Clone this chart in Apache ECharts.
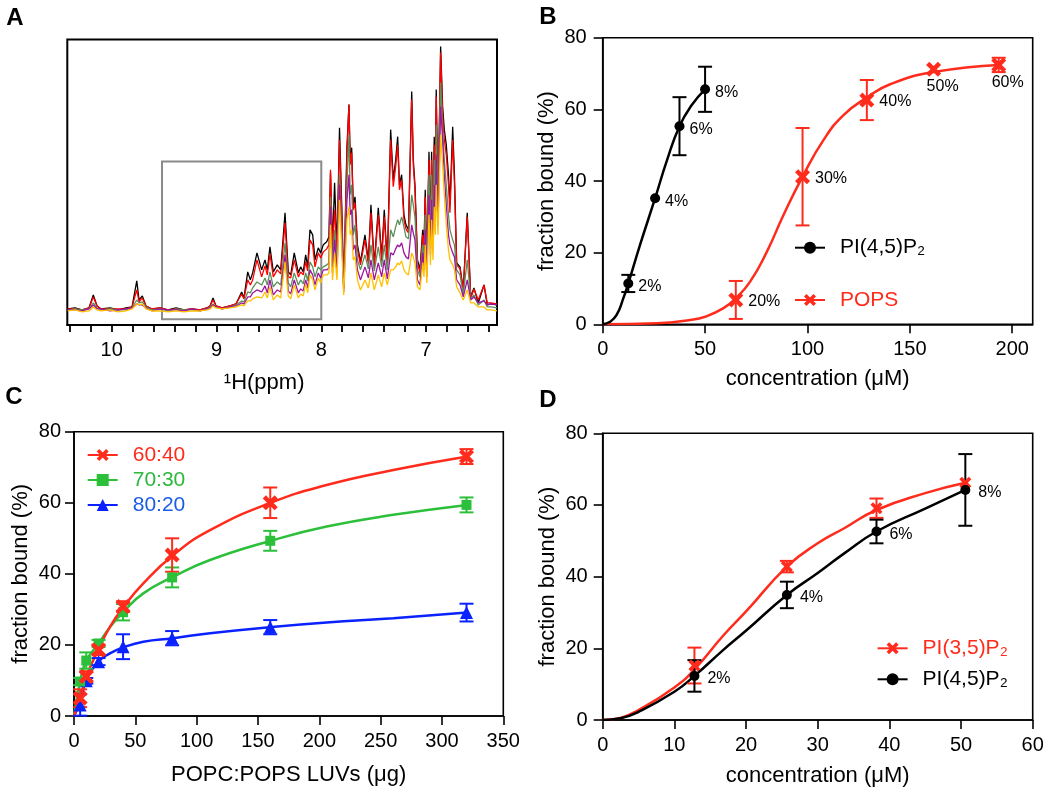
<!DOCTYPE html>
<html><head><meta charset="utf-8">
<script src="https://cdn.jsdelivr.net/npm/echarts@6/dist/echarts.min.js"></script>
<style>html,body{margin:0;padding:0;background:#fff}#c{width:1050px;height:795px}</style>
</head><body><div id="c"></div>
<script>
// ---------------- Panel A: 1H NMR spectra (vertices) ----------------
const ppmA = [10.42,10.35,10.283,10.217,10.176,10.14,10.102,10.016,9.94,9.864,9.806,9.761,9.739,9.708,9.673,9.615,9.539,9.463,9.386,9.31,9.234,9.157,9.091,9.062,9.033,9.005,8.947,8.871,8.814,
 8.76,8.738,8.702,8.677,8.655,8.614,8.569,8.537,8.515,8.49,8.458,8.42,8.387,8.346,8.315,8.292,8.258,8.219,8.197,8.172,8.149,8.13,8.108,8.082,8.06,8.029,8.006,7.981,7.948,7.927,
 7.912,7.893,7.873,7.85,7.826,7.805,7.786,7.755,7.736,7.724,7.71,7.695,7.678,7.655,7.626,7.583,7.551,7.526,7.494,7.456,7.424,7.399,7.37,7.338,7.313,7.29,7.271,7.254,7.233,7.211,7.192,7.168,
 7.137,7.122,7.106,7.082,7.058,7.032,7.02,7.008,6.993,6.972,6.958,6.947,6.934,6.922,6.912,6.903,6.886,6.861,6.842,6.826,6.807,6.786,6.772,6.746,6.729,6.708,6.676,6.645,6.607,6.574,6.543,6.502,6.447,6.416,6.381,6.323];
const nmrBlack = [16,17,15,17,30,19,16,17,15,17,18,44,25,29,19,16,17,15,17,15,16,15,17,19,27,19,17,19,21,
 33,27,53,45,52,72,55,65,55,78,53,60,55,112,53,50,72,52,58,53,70,58,95,90,65,77,72,80,83,88,
 152,78,142,75,197,120,38,178,220,165,177,120,128,80,63,90,64,120,60,117,68,115,62,195,145,165,188,140,150,110,100,95,
 233,165,140,65,55,95,75,135,62,173,90,173,100,188,140,235,120,278,218,195,180,150,120,198,150,62,58,35,112,28,37,22,40,20,21,20];
const nmrRed = [16,16,15,17,28,19,16,16,16,16,18,35,23,27,19,16,17,15,16,15,16,15,17,19,25,19,17,19,21,
 31,26,45,40,45,65,48,59,50,71,48,55,51,102,48,47,65,48,53,50,63,54,85,80,58,72,67,73,76,80,
 155,75,115,72,185,112,37,170,220,160,172,115,122,76,60,85,61,112,58,110,64,108,60,185,138,158,180,135,145,105,96,92,
 225,160,135,62,52,90,72,128,60,165,86,165,95,180,135,228,115,272,210,185,170,140,112,185,140,60,56,34,108,27,36,25,40,22,22,21];
const nmrGreen = [15,16,15,16,22,17,15,16,15,15,17,25,22,23,18,15,16,14,16,15,15,14,16,18,21,18,16,18,20,
 24,23,33,32,37,43,40,47,40,53,38,43,40,82,42,38,52,40,45,41,52,44,63,58,48,58,55,58,60,62,
 128,58,95,60,150,95,36,140,190,130,140,90,100,65,55,70,56,80,54,78,58,80,55,95,88,98,105,100,108,98,88,86,
 130,120,108,55,48,80,65,110,55,150,80,150,88,165,120,200,110,242,195,165,140,110,95,85,80,55,50,30,65,26,30,20,25,18,18,17];
const nmrPurple = [15,15,14,16,20,16,16,14,15,16,17,21,20,20,17,14,16,15,15,14,16,14,16,17,20,18,16,18,19,
 22,21,28,28,32,35,33,39,32,45,30,35,33,70,34,31,45,32,36,34,45,37,55,50,40,52,47,55,55,57,
 118,52,85,52,140,88,33,125,150,110,115,75,80,55,45,58,47,65,45,62,48,65,46,72,70,76,80,78,82,72,68,66,
 100,92,85,45,40,72,55,95,48,130,70,125,75,140,105,170,100,218,185,150,120,90,80,72,68,45,40,28,45,25,28,22,24,20,21,20];
const nmrYellow = [14,15,13,14,18,15,14,15,13,14,16,21,20,21,16,14,14,13,14,13,14,14,15,16,19,17,16,17,18,
 20,19,24,24,26,28,27,33,27,38,25,30,27,63,29,26,40,27,31,29,41,32,50,45,35,47,42,50,50,52,
 100,45,72,45,125,78,30,105,118,90,95,65,68,45,35,45,37,52,35,50,38,52,40,55,55,58,62,60,64,55,52,50,
 72,68,62,38,35,62,48,80,42,110,60,105,65,118,90,140,90,190,160,130,100,75,65,60,55,38,32,25,35,22,22,18,18,15,15,14];
const nmrTicks = [6.4,6.6,6.8,7.0,7.2,7.4,7.6,7.8,8.0,8.2,8.4,8.6,8.8,9.0,9.2,9.4,9.6,9.8,10.0,10.2,10.4];
const nmrLabels = [7, 8, 9, 10];
const zoomBoxPpm = [9.52, 8.0];
const zoomBoxLevel = [5.7, 163.3];

// ---------------- Panel B ----------------
const concB45 = [12.5, 25.6, 37.5, 50.0];
const boundB45 = [11.4, 35.2, 55.3, 65.6];
const errB45 = [2.4, 0, 8.1, 6.3];
const labelsB45 = ['2%', '4%', '6%', '8%'];
const fitB45X = [0, 3.6, 6.8, 10.1, 12.5, 18.2, 25.6, 31.3, 37.5, 43.5, 50.0];
const fitB45Y = [0, 0.7, 2.6, 7.3, 11.4, 22.1, 35.2, 45.6, 55.3, 61.2, 65.6];
const concBPS = [65.0, 97.6, 129.0, 161.6, 193.4];
const boundBPS = [6.8, 41.2, 62.6, 71.2, 72.4];
const errBPS = [5.3, 13.6, 5.6, 0, 2.0];
const labelsBPS = ['20%', '30%', '40%', '50%', '60%'];
const fitBPSX = [0, 26.4, 42.7, 50, 59, 65, 72, 80.2, 88.3, 97.6, 107.8, 117.6, 129, 140.4, 161.6, 193.4];
const fitBPSY = [0, 0.3, 1.2, 2.1, 4.5, 7.3, 11.9, 20.3, 30.5, 41.2, 51.4, 58.4, 63.3, 67.0, 70.4, 72.4];
const ticksBX = [0, 50, 100, 150, 200];

// ---------------- Panel C ----------------
const luvC = [5, 10, 20, 40, 80, 160, 320];
const c6040 = [5.0, 11.1, 18.6, 30.8, 45.3, 60.0, 73.0];
const e6040 = [2.5, 1.5, 1.5, 1.5, 4.7, 4.3, 2.1];
const c7030 = [9.7, 15.6, 20.4, 29.2, 39.0, 49.3, 59.4];
const e7030 = [1.0, 2.3, 1.0, 2.3, 2.8, 2.8, 2.1];
const c8020 = [3.1, 9.9, 15.3, 19.5, 21.9, 25.0, 29.1];
const e8020 = [3.0, 0.8, 1.0, 3.5, 2.0, 2.0, 2.5];
const fitCX = [0, 5, 10, 20, 29.3, 40, 56.5, 81, 110.9, 160.3, 206, 260.3, 320.6];
const fit6040 = [0, 5, 11, 18.8, 25.1, 30.5, 37.3, 45.3, 52.3, 60.0, 65.0, 69.2, 73.0];
const fit7030 = [0, 9.7, 15.5, 20.4, 25.0, 29.2, 34.5, 39.2, 43.9, 49.3, 53.3, 56.6, 59.4];
const fit8020 = [0, 4.0, 10.0, 15.3, 17.6, 19.3, 20.9, 21.9, 23.3, 25.0, 26.3, 27.5, 29.1];

// ---------------- Panel D ----------------
const concD = [12.8, 25.7, 38.2, 50.6];
const d45 = [12.3, 34.9, 52.6, 64.2];
const eD45 = [4.4, 3.7, 3.3, 10.0];
const d35 = [15.2, 42.8, 59.1, 66.2];
const eD35 = [5.0, 1.6, 2.7, 0];
const labelsD = ['2%', '4%', '6%', '8%'];
const fitDX = [0, 2.5, 5, 10, 12.8, 16.8, 20.1, 25.7, 30, 33.7, 38.2, 45, 50.6];
const fitD35 = [0, 0.6, 2.8, 9.1, 14.1, 23.5, 30.5, 42.8, 49.3, 53.5, 58.6, 63.3, 66.2];
const fitD45 = [0, 0.5, 2.3, 7.9, 12.3, 19.5, 25.1, 34.9, 41.0, 46.5, 52.6, 59.0, 64.2];

// ---------------- styling ----------------
const FONT = '"Liberation Sans", Arial, Helvetica, sans-serif';
const RED = '#ff2b1c', BLK = '#000000', GRN = '#2cbf3a', BLU = '#0a22ff';
const GRN_T = '#2db83d', BLU_T = '#1a5ce6';
const SPEC = ['#000000', '#ff0000', '#5b8f5b', '#a0159f', '#ffc000'];
const XSYM = 'path://M0,2.1L2.1,0L5,2.9L7.9,0L10,2.1L7.1,5L10,7.9L7.9,10L5,7.1L2.1,10L0,7.9L2.9,5Z';

const pairs = (xs, ys) => xs.map((x, i) => [x, ys[i]]);
function curve(name, xs, ys, color, gi, symbol, size) {
  return { type: 'line', name, xAxisIndex: gi, yAxisIndex: gi, data: pairs(xs, ys), smooth: 0.5,
    showSymbol: false, symbol, symbolSize: size, lineStyle: { color, width: 2.5 }, itemStyle: { color, opacity: 1 }, z: 3, silent: true };
}
function errBars(xs, ys, es, color, gi) {
  const data = xs.map((x, i) => [x, ys[i] - es[i], ys[i] + es[i], es[i]]).filter(d => d[3] > 0);
  return { type: 'custom', xAxisIndex: gi, yAxisIndex: gi, data, encode: { x: 0, y: [1, 2] }, z: 4, silent: true,
    renderItem: (p, api) => {
      const x = api.value(0), a = api.coord([x, api.value(1)]), b = api.coord([x, api.value(2)]), h = 7;
      const st = { stroke: color, lineWidth: 2 };
      return { type: 'group', children: [
        { type: 'line', shape: { x1: a[0], y1: a[1], x2: b[0], y2: b[1] }, style: st },
        { type: 'line', shape: { x1: a[0] - h, y1: a[1], x2: a[0] + h, y2: a[1] }, style: st },
        { type: 'line', shape: { x1: b[0] - h, y1: b[1], x2: b[0] + h, y2: b[1] }, style: st } ] };
    } };
}
function points(xs, ys, color, gi, symbol, size, labels, labelCfg) {
  return { type: 'scatter', xAxisIndex: gi, yAxisIndex: gi, symbol, symbolSize: size, itemStyle: { color, opacity: 1 }, z: 5, silent: true,
    label: { show: false, color: '#000', fontSize: 16, fontFamily: FONT },
    data: xs.map((x, i) => { const d = { value: [x, ys[i]] };
      if (labels) d.label = Object.assign({ show: true, formatter: labels[i], color: '#000' }, labelCfg(i)); return d; }) };
}
const tickStyle = { color: '#000', width: 1.6 };
function xAx(gi, min, max, interval, name, nameGap, custom) {
  const ax = { gridIndex: gi, type: 'value', min, max, interval,
    axisLine: { show: true, onZero: false, lineStyle: tickStyle },
    axisTick: { show: true, length: 9, lineStyle: tickStyle },
    axisLabel: { color: '#000', fontSize: 20, margin: 15, fontFamily: FONT },
    splitLine: { show: false }, name, nameLocation: 'middle', nameGap,
    nameTextStyle: { color: '#000', fontSize: 22, fontFamily: FONT } };
  if (custom) { ax.axisTick.customValues = custom; ax.axisLabel.customValues = custom; }
  return ax;
}
function yAx(gi, margin, nameGap) {
  return { gridIndex: gi, type: 'value', min: 0, max: 80, interval: 20,
    axisLine: { show: true, onZero: false, lineStyle: tickStyle },
    axisTick: { show: true, length: 9, lineStyle: tickStyle },
    axisLabel: { color: '#000', fontSize: 20, margin, fontFamily: FONT },
    splitLine: { show: false }, name: 'fraction bound (%)', nameLocation: 'middle', nameGap,
    nameTextStyle: { color: '#000', fontSize: 22, fontFamily: FONT } };
}
function legendCfg(names, colors, left, top, gap) {
  return { show: true, selectedMode: false, orient: 'vertical', left, top, itemGap: gap, itemWidth: 30, itemHeight: 15, padding: 0,
    data: names.map((n, i) => ({ name: n, textStyle: { color: colors[i] } })),
    formatter: n => n.replace(/^[A-Z]:/, ''),
    textStyle: { fontSize: 21, fontFamily: FONT, lineHeight: 24, padding: [0, 0, 0, 10] } };
}
const gridBase = { show: true, borderColor: '#000', borderWidth: 1.6, containLabel: false };

const specNames = ['s1', 's2', 's3', 's4', 's5'];
const specData = [nmrBlack, nmrRed, nmrGreen, nmrPurple, nmrYellow];
const specSeries = specData.map((arr, k) => ({ type: 'line', name: specNames[k], xAxisIndex: 0, yAxisIndex: 0,
  data: pairs(ppmA, arr), showSymbol: false, symbol: 'none', lineStyle: { color: SPEC[k], width: 1.3 }, z: 2, silent: true }));
specSeries[4].markArea = { silent: true, itemStyle: { color: 'rgba(0,0,0,0)', borderColor: '#8a8a8a', borderWidth: 2 },
  data: [[{ coord: [zoomBoxPpm[0], zoomBoxLevel[0]] }, { coord: [zoomBoxPpm[1], zoomBoxLevel[1]] }]] };

const option = {
  animation: false,
  backgroundColor: '#fff',
  textStyle: { fontFamily: FONT },
  grid: [
    Object.assign({ left: 67.3, top: 39.5, width: 429.7, height: 285.5 }, gridBase, { borderWidth: 2 }),
    Object.assign({ left: 602.7, top: 37.7, width: 430, height: 286.6 }, gridBase),
    Object.assign({ left: 74, top: 431.7, width: 429.3, height: 284.3 }, gridBase),
    Object.assign({ left: 602.7, top: 433.3, width: 430, height: 286.7 }, gridBase)
  ],
  xAxis: [
    { gridIndex: 0, type: 'value', min: 6.323, max: 10.424, inverse: true,
      axisLine: { show: true, onZero: false, lineStyle: { color: '#000', width: 2 } },
      axisTick: { show: true, length: 7, lineStyle: { color: '#000', width: 1.8 }, customValues: nmrTicks },
      axisLabel: { customValues: nmrLabels, color: '#000', fontSize: 20, margin: 15, fontFamily: FONT },
      splitLine: { show: false }, name: '¹H(ppm)', nameLocation: 'middle', nameGap: 47,
      nameTextStyle: { color: '#000', fontSize: 22, fontFamily: FONT, padding: [0, 36, 0, 0] } },
    xAx(1, 0, 210, 50, 'concentration (μM)', 44, ticksBX),
    xAx(2, 0, 350, 50, 'POPC:POPS LUVs (μg)', 48),
    xAx(3, 0, 60, 10, 'concentration (μM)', 45)
  ],
  yAxis: [
    { gridIndex: 0, type: 'value', min: 0, max: 285, show: false, splitLine: { show: false } },
    yAx(1, 16, 45), yAx(2, 13, 42), yAx(3, 15, 44)
  ],
  legend: [
    legendCfg(['PI(4,5)P₂', 'POPS'], [BLK, RED], 794, 235.7, 28.3),
    legendCfg(['60:40', '70:30', '80:20'], [RED, GRN_T, BLU_T], 86.7, 443, 1),
    legendCfg(['D:PI(3,5)P₂', 'D:PI(4,5)P₂'], [RED, BLK], 876.6, 636.3, 7)
  ],
  graphic: [
    { type: 'text', style: { x: 15, y: 18, text: 'A', align: 'center', verticalAlign: 'middle', font: 'bold 24px ' + FONT, fill: '#000' } },
    { type: 'text', style: { x: 548, y: 17, text: 'B', align: 'center', verticalAlign: 'middle', font: 'bold 24px ' + FONT, fill: '#000' } },
    { type: 'text', style: { x: 14, y: 397, text: 'C', align: 'center', verticalAlign: 'middle', font: 'bold 24px ' + FONT, fill: '#000' } },
    { type: 'text', style: { x: 548, y: 400, text: 'D', align: 'center', verticalAlign: 'middle', font: 'bold 24px ' + FONT, fill: '#000' } }
  ],
  series: [
    ...specSeries,
    // B
    curve('POPS', fitBPSX, fitBPSY, RED, 1, XSYM, 14),
    curve('PI(4,5)P₂', fitB45X, fitB45Y, BLK, 1, 'circle', 10),
    errBars(concBPS, boundBPS, errBPS, RED, 1),
    errBars(concB45, boundB45, errB45, BLK, 1),
    points(concBPS, boundBPS, RED, 1, XSYM, 15, labelsBPS,
      i => i >= 3 ? { position: 'bottom', distance: 2, offset: [9, 0] } : { position: 'right', distance: 5, offset: [0, 2] }),
    points(concB45, boundB45, BLK, 1, 'circle', 10, labelsB45, i => ({ position: 'right', distance: 5, offset: [0, 3] })),
    // C
    curve('80:20', fitCX, fit8020, BLU, 2, 'triangle', 13),
    curve('70:30', fitCX, fit7030, GRN, 2, 'rect', 10),
    curve('60:40', fitCX, fit6040, RED, 2, XSYM, 14),
    errBars(luvC, c8020, e8020, BLU, 2),
    errBars(luvC, c7030, e7030, GRN, 2),
    errBars(luvC, c6040, e6040, RED, 2),
    points(luvC, c8020, BLU, 2, 'triangle', 13),
    points(luvC, c7030, GRN, 2, 'rect', 10),
    points(luvC, c6040, RED, 2, XSYM, 15),
    // D
    curve('D:PI(3,5)P₂', fitDX, fitD35, RED, 3, XSYM, 12),
    curve('D:PI(4,5)P₂', fitDX, fitD45, BLK, 3, 'circle', 10),
    errBars(concD, d35, eD35, RED, 3),
    errBars(concD, d45, eD45, BLK, 3),
    points(concD, d35, RED, 3, XSYM, 12),
    points(concD, d45, BLK, 3, 'circle', 10, labelsD, i => ({ position: 'right', distance: 8, offset: [0, 3] }))
  ]
};
const chart = echarts.init(document.getElementById('c'), null, { renderer: 'canvas' });
chart.setOption(option);
</script></body></html>
